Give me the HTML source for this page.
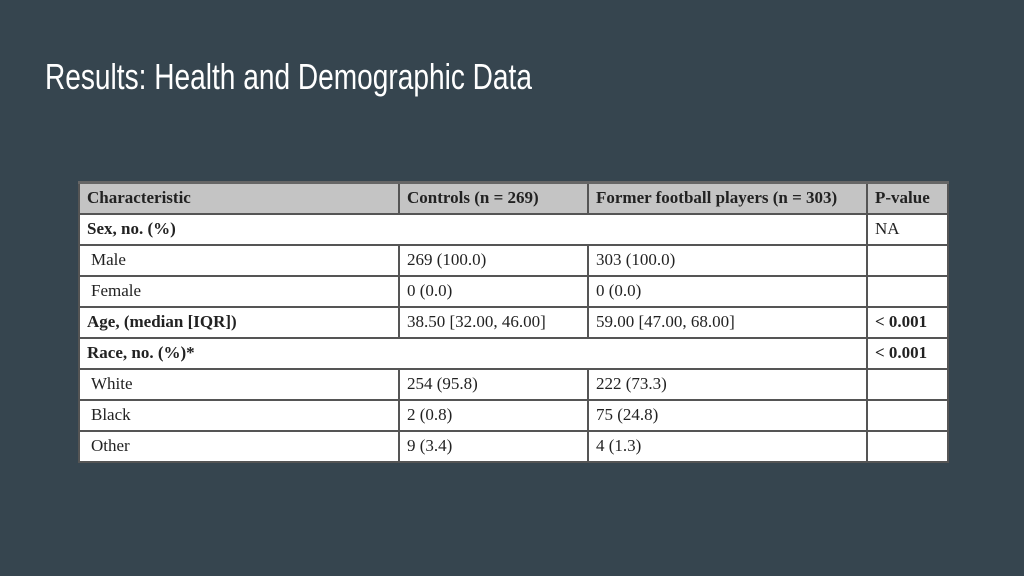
<!DOCTYPE html>
<html><head><meta charset="utf-8"><style>
body{margin:0;width:1024px;height:576px;background:#36454f;overflow:hidden;position:relative;font-family:"Liberation Serif",serif}
h1{position:absolute;left:45px;top:56px;margin:0;color:#fff;font:36px "Liberation Sans",sans-serif;transform:scaleX(0.78);transform-origin:left top;white-space:nowrap;letter-spacing:0px}
table{position:absolute;left:78px;top:181px;width:869px;height:281px;border-collapse:collapse;background:#fff;table-layout:fixed;font-size:17px;color:#222}
td,th{border:2px solid #555;padding:0 0 0 7px;text-align:left;height:31px;white-space:nowrap;box-sizing:border-box}
th{background:#c4c4c4;font-weight:bold;border-top:3px solid #666}
.b{font-weight:bold}
.i{padding-left:11px}
</style></head><body>
<h1>Results: Health and Demographic Data</h1>
<table>
<colgroup><col style="width:320px"><col style="width:189px"><col style="width:279px"><col style="width:81px"></colgroup>
<tr><th>Characteristic</th><th>Controls (n = 269)</th><th>Former football players (n = 303)</th><th>P-value</th></tr>
<tr><td colspan="3" class="b">Sex, no. (%)</td><td>NA</td></tr>
<tr><td class="i">Male</td><td>269 (100.0)</td><td>303 (100.0)</td><td></td></tr>
<tr><td class="i">Female</td><td>0 (0.0)</td><td>0 (0.0)</td><td></td></tr>
<tr><td class="b">Age, (median [IQR])</td><td>38.50 [32.00, 46.00]</td><td>59.00 [47.00, 68.00]</td><td class="b">&lt; 0.001</td></tr>
<tr><td colspan="3" class="b">Race, no. (%)*</td><td class="b">&lt; 0.001</td></tr>
<tr><td class="i">White</td><td>254 (95.8)</td><td>222 (73.3)</td><td></td></tr>
<tr><td class="i">Black</td><td>2 (0.8)</td><td>75 (24.8)</td><td></td></tr>
<tr><td class="i">Other</td><td>9 (3.4)</td><td>4 (1.3)</td><td></td></tr>
</table>
</body></html>
